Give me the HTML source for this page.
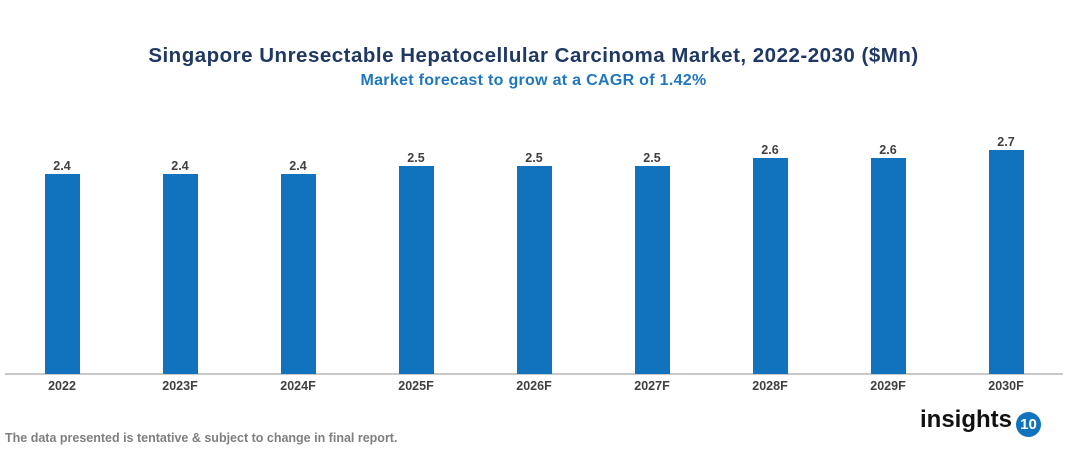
<!DOCTYPE html><html><head><style>
body{margin:0;width:1067px;height:454px;background:#fff;font-family:"Liberation Sans",Arial,sans-serif;position:relative;overflow:hidden}
.t{position:absolute;left:0;width:1067px;text-align:center;font-weight:bold}
.b{position:absolute;width:35px;background:#1172bd;bottom:80px}
.v,.x{position:absolute;width:80px;text-align:center;font-weight:bold;font-size:12.5px;color:#404040}
</style></head><body>
<div class="t" style="top:44px;font-size:20.5px;letter-spacing:0.5px;color:#1f3864">Singapore Unresectable Hepatocellular Carcinoma Market, 2022-2030 ($Mn)</div>
<div class="t" style="top:72px;font-size:16px;letter-spacing:0.3px;color:#1f77c0">Market forecast to grow at a CAGR of 1.42%</div>
<div style="position:absolute;left:5px;top:373px;width:1058px;height:2px;background:#c8c8c8"></div>
<div id="c"></div>
<div style="position:absolute;left:5px;top:431px;font-size:12.5px;font-weight:bold;color:#7f7f7f">The data presented is tentative &amp; subject to change in final report.</div>
<div style="position:absolute;left:920px;top:406px;font-size:24px;font-weight:bold;color:#111">insights</div>
<div style="position:absolute;left:1016px;top:412px;width:25px;height:25px;border-radius:50%;background:#1172bd;color:#fff;font-weight:bold;font-size:15px;text-align:center;line-height:25px">10</div>
<script>
var L=["2022","2023F","2024F","2025F","2026F","2027F","2028F","2029F","2030F"],V=[2.4,2.4,2.4,2.5,2.5,2.5,2.6,2.6,2.7],T=[174,174,174,166,166,166,158,158,150],h="";
for(var i=0;i<9;i++){var c=62+118*i;h+='<div class="b" style="left:'+(c-17.5)+'px;top:'+T[i]+'px"></div><div class="v" style="left:'+(c-40)+'px;top:'+(T[i]-15)+'px">'+V[i].toFixed(1)+'</div><div class="x" style="left:'+(c-40)+'px;top:379px">'+L[i]+'</div>';}
document.getElementById("c").innerHTML=h;
</script></body></html>
